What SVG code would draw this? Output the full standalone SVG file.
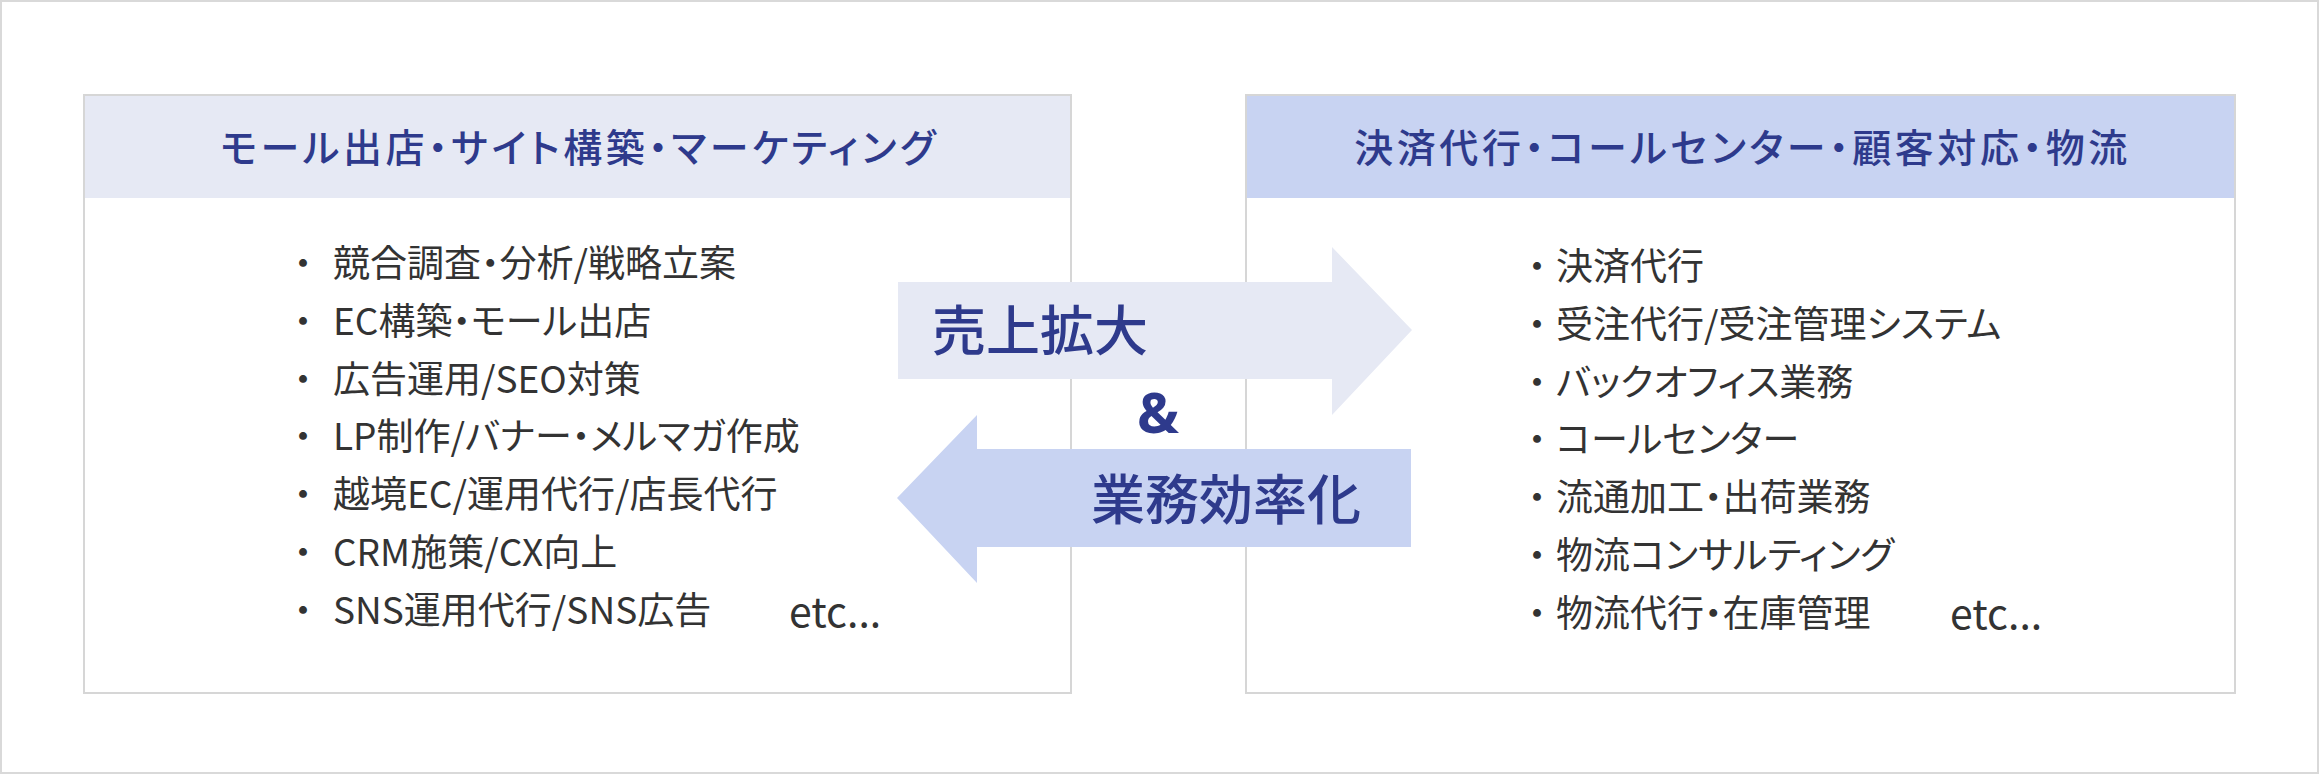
<svg xmlns="http://www.w3.org/2000/svg" width="2319" height="774" viewBox="0 0 2319 774">
<style>
.frame{fill:#ffffff;stroke:#d9d9d9;stroke-width:2}
.panel{fill:#ffffff;stroke:#d6d6d6;stroke-width:2}
.hdr-l{fill:#e6e9f4}
.hdr-r{fill:#c8d3f2}
.htxt{font-family:"Noto Sans CJK JP","Noto Sans",sans-serif;font-size:39px;fill:#2e3a8c;font-weight:500;text-anchor:middle;font-feature-settings:"palt";letter-spacing:3.6px}
.item{font-family:"Noto Sans CJK JP","Noto Sans",sans-serif;font-size:37px;fill:#333333;font-feature-settings:"palt"}
.etc{font-family:"Noto Sans CJK JP","Noto Sans",sans-serif;font-size:41px;fill:#333333}
.bul{font-family:"Noto Sans CJK JP","Noto Sans",sans-serif;font-size:37px;fill:#333333;text-anchor:middle}
.lbl{font-family:"Noto Sans CJK JP","Noto Sans",sans-serif;font-size:54px;fill:#2e3a8c;font-weight:500}
.amp{font-family:"Noto Sans","Noto Sans CJK JP",sans-serif;font-size:56px;fill:#2e3a8c;font-weight:700;text-anchor:middle}
</style>
<rect class="frame" x="1" y="1" width="2317" height="772"/>
<g id="panel-left">
<rect class="panel" x="84" y="95" width="987" height="598"/>
<rect class="hdr-l" x="85" y="96" width="985" height="102"/>
<text class="htxt" x="579.5" y="162">モール出店・サイト構築・マーケティング</text>
<text class="bul" x="303" y="277">・</text><text class="item" x="333" y="277">競合調査・分析/戦略立案</text>
<text class="bul" x="303" y="335">・</text><text class="item" x="333" y="335">EC構築・モール出店</text>
<text class="bul" x="303" y="393">・</text><text class="item" x="333" y="393">広告運用/SEO対策</text>
<text class="bul" x="303" y="450">・</text><text class="item" x="333" y="450">LP制作/バナー・メルマガ作成</text>
<text class="bul" x="303" y="508">・</text><text class="item" x="333" y="508">越境EC/運用代行/店長代行</text>
<text class="bul" x="303" y="566">・</text><text class="item" x="333" y="566">CRM施策/CX向上</text>
<text class="bul" x="303" y="624">・</text><text class="item" x="333" y="624">SNS運用代行/SNS広告</text>
<text class="etc" x="789" y="627">etc...</text>
</g>
<g id="panel-right">
<rect class="panel" x="1246" y="95" width="989" height="598"/>
<rect class="hdr-r" x="1247" y="96" width="987" height="102"/>
<text class="htxt" x="1742.5" y="162">決済代行・コールセンター・顧客対応・物流</text>
<text class="bul" x="1537" y="280">・</text><text class="item" x="1556" y="280">決済代行</text>
<text class="bul" x="1537" y="338">・</text><text class="item" x="1556" y="338">受注代行/受注管理システム</text>
<text class="bul" x="1537" y="396">・</text><text class="item" x="1556" y="396">バックオフィス業務</text>
<text class="bul" x="1537" y="453">・</text><text class="item" x="1556" y="453">コールセンター</text>
<text class="bul" x="1537" y="511">・</text><text class="item" x="1556" y="511">流通加工・出荷業務</text>
<text class="bul" x="1537" y="569">・</text><text class="item" x="1556" y="569">物流コンサルティング</text>
<text class="bul" x="1537" y="627">・</text><text class="item" x="1556" y="627">物流代行・在庫管理</text>
<text class="etc" x="1950" y="629">etc...</text>
</g>
<g id="connectors">
<g id="arrow-sales">
<polygon fill="#e6e9f4" points="898,282 1332,282 1332,247 1412,330 1332,415 1332,379 898,379"/>
<text class="lbl" x="932" y="351">売上拡大</text>
</g>
<text id="amp" class="amp" x="1158" y="433">&amp;</text>
<g id="arrow-efficiency">
<polygon fill="#c8d3f2" points="1411,449 977,449 977,415 897,498 977,583 977,547 1411,547"/>
<text class="lbl" x="1091" y="520">業務効率化</text>
</g>
</g>
</svg>
